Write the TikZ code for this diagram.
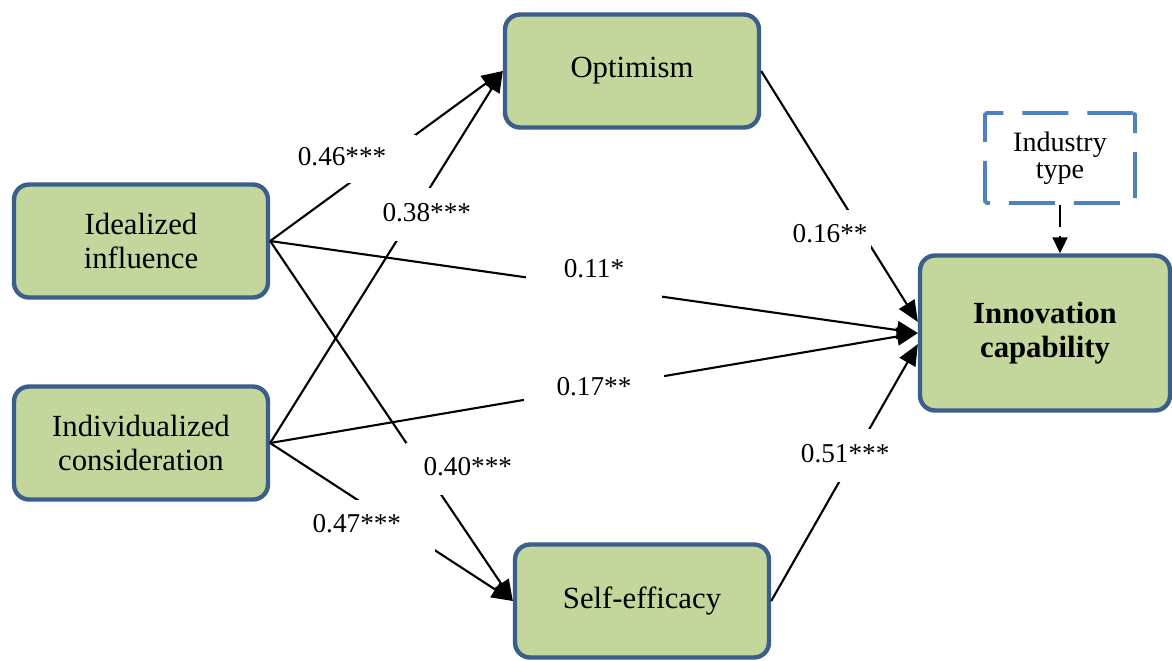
\documentclass[tikz,border=0pt]{standalone}
\usepackage{fontspec}
\setmainfont{Liberation Serif}
\usetikzlibrary{arrows.meta}
\definecolor{boxgreen}{HTML}{C3D69B}
\definecolor{boxborder}{HTML}{3B5E8C}
\definecolor{dashblue}{HTML}{4F81BD}

\begin{document}
\begin{tikzpicture}[
    x=0.02cm, y=-0.02cm,
    construct/.style={
        rectangle,
        rounded corners=0.3cm,
        draw=boxborder,
        line width=2.5pt,
        fill=boxgreen,
        align=center,
        minimum width=5.08cm,
        minimum height=2.26cm,
        font=\fontsize{17.5}{19.5}\selectfont
    },
    outcome/.style={
        construct,
        minimum width=5cm,
        minimum height=3.1cm,
        font=\fontsize{17.5}{19.5}\selectfont\bfseries
    },
    control/.style={
        rectangle,
        rounded corners=1pt,
        draw=dashblue,
        line width=2.2pt,
        dash pattern=on 0.92cm off 0.38cm,
        align=center,
        minimum width=3cm,
        minimum height=1.8cm,
        font=\fontsize{16}{15.5}\selectfont
    },
    arrow/.style={-{Triangle[length=0.42cm, width=0.36cm]}, line width=1.2pt},
    coef/.style={
        fill=white,
        inner sep=2pt,
        text height=0.36cm,
        text depth=0.08cm,
        font=\fontsize{15.5}{18}\selectfont
    }
]
    \useasboundingbox (0,0) rectangle (1172,660);

    \node[construct] (ideal) at (141,241) {Idealized\\influence};
    \node[construct] (indiv) at (141,443) {Individualized\\consideration};
    \node[construct] (optim) at (632,71) {Optimism};
    \node[construct] (selfeff) at (642,601) {Self-efficacy};
    \node[outcome] (innov) at (1045,333) {Innovation\\capability};
    \node[control] (industry) at (1060,158) {Industry\\type};

    % to the mediators
    \draw[arrow] (ideal.east) -- node[coef, pos=0.366, yshift=0.4cm, text width=2.3cm, align=left, inner ysep=0.26cm] {0.46***} (optim.west);
    \draw[arrow] (indiv.east) -- node[coef, pos=0.613, xshift=0.28cm, inner ysep=0.31cm] {0.38***} (optim.west);
    \draw[arrow] (ideal.east) -- node[coef, pos=0.633, xshift=0.88cm, inner xsep=0.36cm, inner ysep=0.3cm] {0.40***} (selfeff.west);
    \draw[arrow] (indiv.east) -- node[coef, pos=0.42, yshift=-0.33cm, text width=2.38cm, align=left, inner ysep=0.3cm] {0.47***} (selfeff.west);

    % direct paths
    \draw[arrow] (ideal.east) -- node[coef, pos=0.5, anchor=base, yshift=0.2cm, inner xsep=0.75cm, text depth=0.35cm] {0.11*} (innov.west);
    \draw[arrow] (indiv.east) -- node[coef, pos=0.5, inner xsep=0.65cm] {0.17**} (innov.west);

    % from the mediators
    \draw[arrow] (optim.east) -- node[coef, pos=0.657, anchor=east, xshift=0.16cm, inner ysep=0.3cm] {0.16**} (innov.175);
    \draw[arrow] (selfeff.east) -- node[coef, pos=0.566, xshift=-0.18cm, inner ysep=0.31cm] {0.51***} (innov.185);

    % control variable
    \draw[-{Triangle[length=0.32cm, width=0.3cm]}, line width=1.1pt, dash pattern=on 0.44cm off 0.18cm]
        (industry.south) -- (industry.south |- innov.north);
\end{tikzpicture}
\end{document}
